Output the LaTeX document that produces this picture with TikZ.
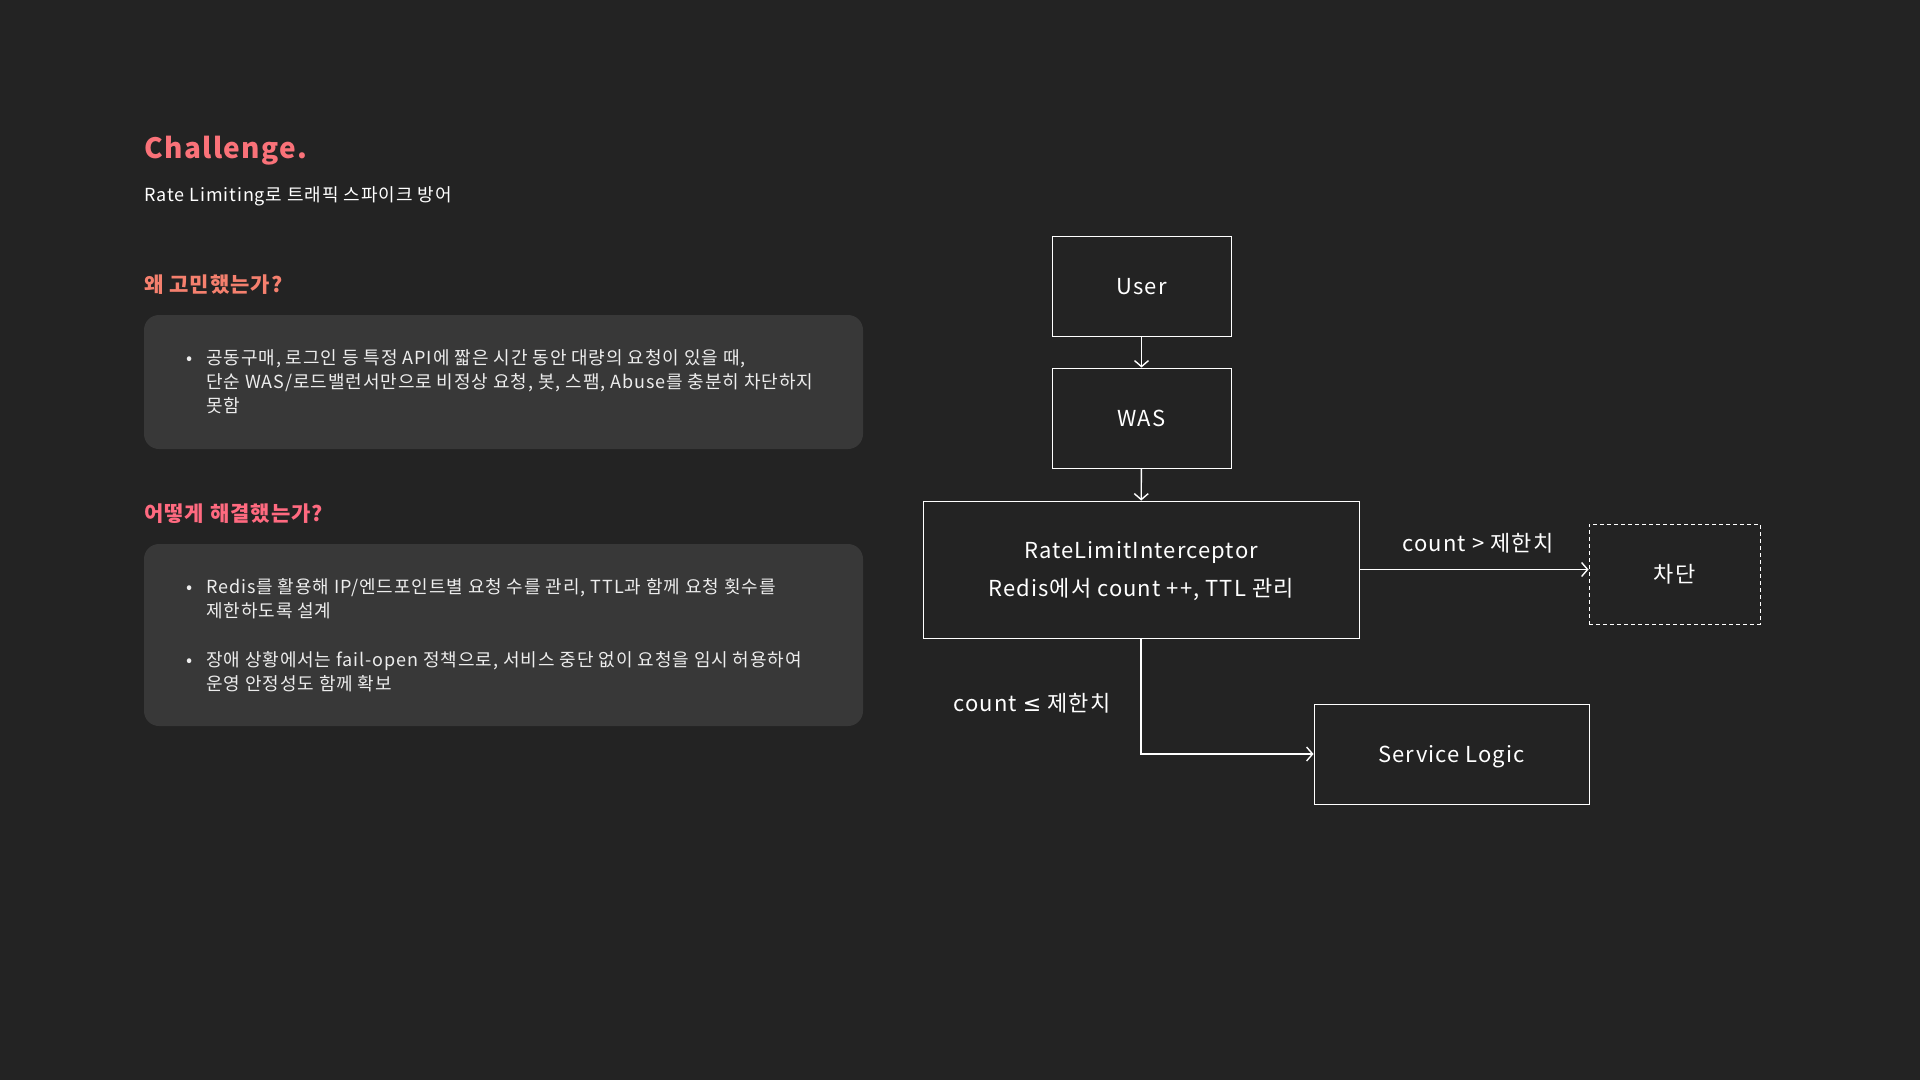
\documentclass[tikz,border=0pt]{standalone}
\usepackage{fontspec}
\setmainfont[LetterSpace=5]{Noto Sans CJK KR}
\newfontfamily\mathsym{DejaVu Sans}
\usetikzlibrary{arrows.meta}
\definecolor{bgdark}{HTML}{232323}
\definecolor{cardgray}{HTML}{383838}
\definecolor{titlered}{HTML}{FA7279}
\definecolor{headsalmon}{HTML}{F5806E}
\definecolor{headpink}{HTML}{FF6A80}
\definecolor{bodywhite}{HTML}{EDEDED}

\begin{document}
\begin{tikzpicture}[x=1pt,y=-1pt,
  card/.style={fill=cardgray,rounded corners=15pt},
  heading/.style={anchor=base west,inner sep=0pt,font=\fontsize{21}{25}\selectfont\bfseries},
  bodytext/.style={anchor=base west,inner sep=0pt,text=bodywhite,align=left,
    font=\fontsize{18}{24}\selectfont},
  flowbox/.style={draw=white,line width=1pt,text=white,align=center,inner sep=0pt,
    minimum height=100pt,text height=16pt,text depth=0pt,
    font=\fontsize{22}{38}\selectfont},
  flow/.style={draw=white,line width=1.4pt,-{Straight Barb[length=6pt,width=14pt]}},
  flowlabel/.style={inner sep=0pt,text=white,font=\fontsize{22}{26}\selectfont}]
  %\draw[help lines] (0,0) grid[step=100] (1920,1080);
\fill[bgdark] (0,0) rectangle (1920,1080);

% left side
\node[anchor=base west,inner sep=0pt,text=titlered,
  font=\fontsize{28}{32}\selectfont\bfseries] (title) at (144,158.5) {Challenge.};
\node[anchor=base west,inner sep=0pt,text=white,
  font=\fontsize{18}{22}\selectfont] (subtitle) at (144,201)
  {Rate Limiting로 트래픽 스파이크 방어};

\node[heading,text=headsalmon] (why) at (144,292.5) {왜 고민했는가?};
\fill[card] (144,315) rectangle (863,449);
\node[bodytext] (whydot) at (186,364.5) {•};
\node[bodytext] (whytext) at (206,412.5)
  {공동구매, 로그인 등 특정 API에 짧은 시간 동안 대량의 요청이 있을 때,\\
   단순 WAS/로드밸런서만으로 비정상 요청, 봇, 스팸, Abuse를 충분히 차단하지\\
   못함};

\node[heading,text=headpink] (how) at (144,521.5) {어떻게 해결했는가?};
\fill[card] (144,544) rectangle (863,726);
\node[bodytext] (howdota) at (186,593.5) {•};
\node[bodytext] (howtexta) at (206,617.5)
  {Redis를 활용해 IP/엔드포인트별 요청 수를 관리, TTL과 함께 요청 횟수를\\
   제한하도록 설계};
\node[bodytext] (howdotb) at (186,666) {•};
\node[bodytext] (howtextb) at (206,690)
  {장애 상황에서는 fail-open 정책으로, 서비스 중단 없이 요청을 임시 허용하여\\
   운영 안정성도 함께 확보};

% right side: flow
\node[flowbox,minimum width=179pt] (user) at (1141.5,286) {User};
\node[flowbox,minimum width=179pt] (was) at (1141.5,418) {WAS};
\node[flowbox,minimum width=436pt,minimum height=137pt,text height=54pt]
  (limiter) at (1141,569.5)
  {RateLimitInterceptor\\Redis에서 count ++, TTL 관리};
\node[flowbox,dash pattern=on 4pt off 3pt,minimum width=171pt]
  (block) at (1674.5,574) {차단};
\node[flowbox,minimum width=275pt] (service) at (1451.5,754) {Service Logic};

\draw[flow] (user) -- (was);
\draw[flow] (was) -- (limiter);
\draw[flow] (limiter.east) -- node[flowlabel,above=16pt,xshift=4pt] {count > 제한치}
  (limiter.east -| block.west);
\draw[flow] (limiter.south) |- node[flowlabel,pos=0.28,left=30pt]
  {count {\mathsym ≤} 제한치} (service.west);
\end{tikzpicture}
\end{document}
